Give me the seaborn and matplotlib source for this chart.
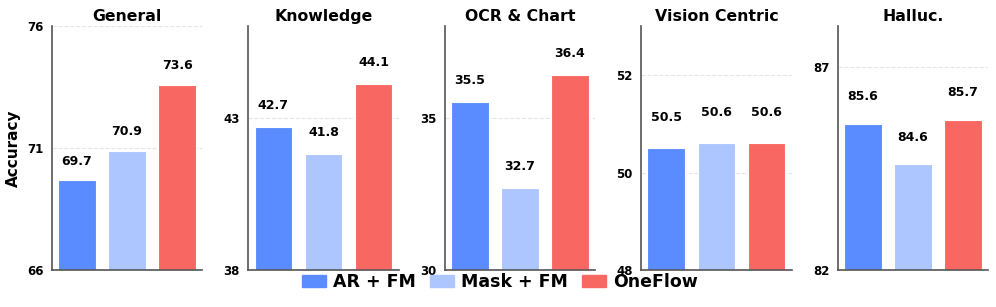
import pandas as pd
import matplotlib
matplotlib.use("Agg")
import matplotlib.pyplot as plt
import seaborn as sns

sns.set_theme(style="white")
plt.rcParams['font.family'] = ['DejaVu Sans']
plt.rcParams['text.color'] = 'black'
plt.rcParams['axes.labelcolor'] = 'black'
plt.rcParams['ytick.color'] = 'black'

# Datos de la figura
modelos = ['AR + FM', 'Mask + FM', 'OneFlow']
colores = ['#5B8CFF', '#ADC6FF', '#F96762']
categorias = ['General', 'Knowledge', 'OCR & Chart', 'Vision Centric', 'Halluc.']
valores = {
    'General': [69.7, 70.9, 73.6],
    'Knowledge': [42.7, 41.8, 44.1],
    'OCR & Chart': [35.5, 32.7, 36.4],
    'Vision Centric': [50.5, 50.6, 50.6],
    'Halluc.': [85.6, 84.6, 85.7],
}
limites = {
    'General': (66, 76),
    'Knowledge': (38, 46),
    'OCR & Chart': (30, 38),
    'Vision Centric': (48, 53),
    'Halluc.': (82, 88),
}
ticks = {
    'General': [66, 71, 76],
    'Knowledge': [38, 43],
    'OCR & Chart': [30, 35],
    'Vision Centric': [48, 50, 52],
    'Halluc.': [82, 87],
}

fig, axes = plt.subplots(1, 5, figsize=(9.96, 3.07), dpi=100)
fig.subplots_adjust(left=0.052, right=0.992, top=0.915, bottom=0.12, wspace=0.307)

for ax, cat in zip(axes, categorias):
    df = pd.DataFrame({'modelo': modelos, 'valor': valores[cat]})
    sns.barplot(ax=ax, data=df, x='modelo', y='valor', hue='modelo',
                palette=colores, saturation=1, width=0.75,
                edgecolor='white', linewidth=0.8, legend=False)
    ax.set_ylim(*limites[cat])
    ax.set_xlim(-0.5, 2.5)
    ax.set_yticks(ticks[cat])
    ax.set_yticklabels([str(t) for t in ticks[cat]], fontsize=8.5, fontweight='bold')
    ax.set_xticks([])
    ax.set_xlabel('')
    ax.set_ylabel('')
    ax.set_title(cat, fontsize=11.3, fontweight='bold', pad=4, color='black')
    ax.yaxis.grid(True, linestyle='--', color='#cccccc', alpha=0.5, linewidth=0.8)
    ax.set_axisbelow(True)
    for s in ['top', 'right']:
        ax.spines[s].set_visible(False)
    for s in ['left', 'bottom']:
        ax.spines[s].set_color('#555555')
        ax.spines[s].set_linewidth(1.2)
    ax.tick_params(axis='y', length=4, width=1, color='#555555', pad=2)
    for i, v in enumerate(valores[cat]):
        ax.text(i, v + 0.5, f'{v:.1f}', ha='center', va='bottom',
                fontsize=9, fontweight='bold', color='black')

axes[0].set_ylabel('Accuracy', fontsize=11, fontweight='bold', color='black')

handles = [plt.Rectangle((0, 0), 1, 1, color=c) for c in colores]
fig.legend(handles, modelos, loc='center', bbox_to_anchor=(0.502, 0.08), ncol=3,
           frameon=False, prop={'weight': 'bold', 'size': 12.5},
           handlelength=1.4, handletextpad=0.4, columnspacing=0.8)

fig.savefig('out.png', dpi=100)
